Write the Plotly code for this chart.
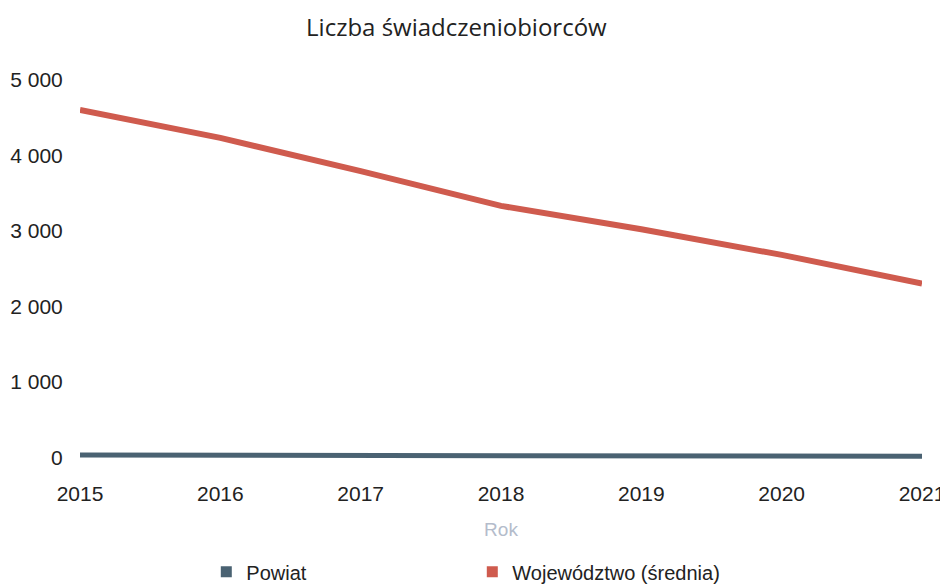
import plotly.graph_objects as go

years = [2015, 2016, 2017, 2018, 2019, 2020, 2021]
powiat = [30, 27, 24, 21, 18, 15, 12]
wojewodztwo = [4600, 4230, 3790, 3330, 3020, 2680, 2300]

blue = '#4a6272'
red = '#cf5b4e'
tick_font = dict(family='Liberation Sans, Arial, sans-serif', size=21, color='#222222')

fig = go.Figure()
fig.add_trace(go.Scatter(x=years, y=powiat, mode='lines', line=dict(color=blue, width=5),
                         name='Powiat', showlegend=False))
fig.add_trace(go.Scatter(x=years, y=wojewodztwo, mode='lines', line=dict(color=red, width=6),
                         name='Województwo (średnia)', showlegend=False))
# legend entries with square swatches
fig.add_trace(go.Scatter(x=[None], y=[None], mode='markers', name='Powiat',
                         marker=dict(symbol='square', size=11, color=blue)))
fig.add_trace(go.Scatter(x=[None], y=[None], mode='markers', name='Województwo (średnia)',
                         marker=dict(symbol='square', size=11, color=red)))

# page body has an 8px margin, so the figure is 8px smaller each way
fig.update_layout(
    width=940, height=580,
    margin=dict(l=72, r=26, t=68, b=127),
    paper_bgcolor='white', plot_bgcolor='white',
    separators=', ',
    title=dict(text='Liczba świadczeniobiorców', x=0.477, xanchor='center',
               y=0.9655, yanchor='middle',
               font=dict(family='Open Sans, sans-serif', size=24, color='#222222')),
    xaxis=dict(range=[2015, 2021], tickvals=years, showgrid=False, zeroline=False,
               showline=False, tickfont=tick_font, ticks='outside', ticklen=14,
               tickcolor='rgba(0,0,0,0)', automargin=False,
               title=dict(text='Rok', standoff=18,
                          font=dict(family='Liberation Sans, Arial, sans-serif', size=19,
                                    color='#b4bccb'))),
    yaxis=dict(range=[-50, 5050], tickvals=[0, 1000, 2000, 3000, 4000, 5000],
               tickformat=',d', showgrid=False, zeroline=False, showline=False,
               tickfont=tick_font, ticks='outside', ticklen=12, tickcolor='rgba(0,0,0,0)',
               automargin=False),
    legend=dict(orientation='h', x=0.15, xanchor='left', yref='container', y=0.028,
                yanchor='middle', entrywidth=221,
                font=dict(family='Liberation Sans, Arial, sans-serif', size=20,
                          color='#222222')),
)

fig.write_html('out.html')
